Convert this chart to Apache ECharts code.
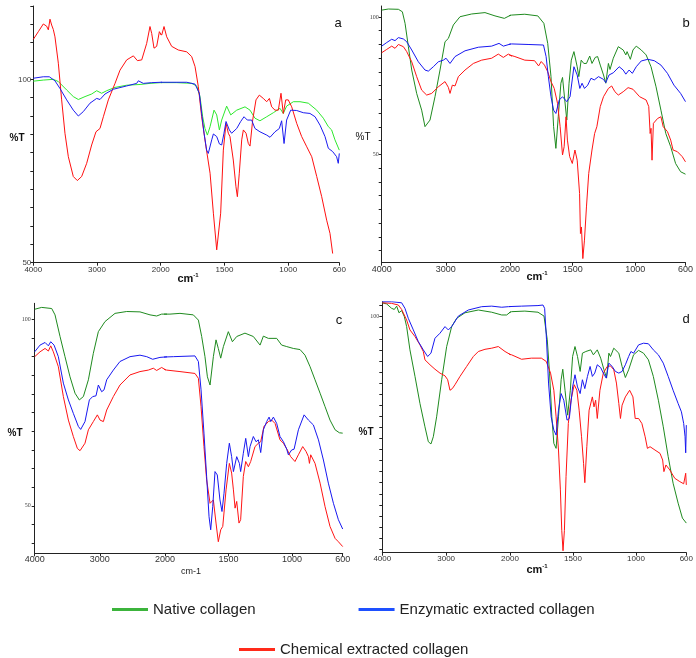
<!DOCTYPE html>
<html><head><meta charset="utf-8">
<script src="https://cdn.jsdelivr.net/npm/echarts@6/dist/echarts.min.js"></script>
<style>html,body{margin:0;padding:0;background:#fff}#c{width:696px;height:658px}</style>
</head><body><div id="c"></div><script>
// ---- data: [wavenumber cm-1, %T] ----
const aNative = [[4000,99.5],[3843,99.8],[3686,100],[3607,99.4],[3476,97.1],[3372,95.3],[3293,94.5],[3188,95.3],[3084,96],[3005,96.9],[2927,96.2],[2848,96.9],[2717,97.8],[2534,98.4],[2324,98.6],[2168,98.9],[2000,99.1],[1875,99.1],[1757,98.9],[1718,98.2],[1692,95.3],[1671,89.8],[1653,86.6],[1634,84.8],[1613,87.1],[1582,91.6],[1561,90.3],[1540,86.2],[1522,88.9],[1483,92.7],[1451,90.3],[1404,91.6],[1339,92.5],[1300,91.6],[1261,89.4],[1222,88.7],[1169,89.8],[1117,90.9],[1065,92.1],[1039,90.7],[1013,92.7],[960,93.9],[908,93.9],[843,93.5],[777,91.6],[725,89.4],[686,87.1],[660,86.2],[634,83.5],[600,80.7]];
const aEnzymatic = [[4000,100.3],[3843,100.7],[3749,100.7],[3660,99.6],[3581,97.5],[3476,94.4],[3372,91.6],[3293,90],[3215,91.2],[3110,93.5],[3005,94.8],[2953,94.5],[2874,96],[2743,97.3],[2534,98.2],[2377,98.9],[2351,99.6],[2272,98.9],[2141,99.1],[2000,99.2],[1796,99.2],[1731,98.7],[1697,96.2],[1679,90.7],[1660,85.3],[1640,80.7],[1627,79.8],[1600,83.5],[1587,85.1],[1561,84.4],[1540,82.4],[1522,82.1],[1504,85.3],[1488,88.5],[1462,86.2],[1444,85.3],[1404,86.6],[1373,88.5],[1347,89.8],[1321,88.9],[1287,88.9],[1261,86.6],[1222,85.7],[1169,84.8],[1143,84.2],[1104,85.7],[1070,86.6],[1052,88.7],[1033,82.5],[1013,88.9],[981,91.6],[934,91.5],[882,90.9],[830,90.7],[790,89.8],[751,87.5],[712,84.4],[686,81.2],[652,80.3],[621,78.9],[608,77.1],[600,79.8]];
const aChemical = [[4000,110.9],[3921,113],[3843,115.1],[3791,114.5],[3764,113.5],[3738,116.4],[3712,114.8],[3686,113.6],[3660,111.6],[3607,104.4],[3555,94.4],[3503,85.3],[3450,78.9],[3372,73.5],[3309,72.4],[3241,73.5],[3162,77.1],[3084,82.1],[3016,85.7],[2953,86.6],[2900,89.8],[2822,94.4],[2717,98.9],[2639,102.5],[2534,105.3],[2429,106.4],[2366,105.1],[2298,105.3],[2220,109.8],[2168,114.4],[2141,112.5],[2105,108.5],[2063,109],[2021,113],[1992,112.1],[1974,114.4],[1953,111.6],[1914,109],[1862,108],[1796,107.5],[1757,106.2],[1731,103.5],[1705,98],[1679,89.8],[1645,81.6],[1613,74.4],[1587,63.5],[1561,53.5],[1548,53.9],[1530,63.5],[1509,80.7],[1488,88],[1470,85.3],[1457,84.4],[1431,78],[1410,70.7],[1399,68],[1384,74.4],[1365,83.5],[1352,86.2],[1331,85.3],[1313,82.5],[1300,81.8],[1279,88.9],[1253,94.4],[1227,95.7],[1196,94.8],[1169,93.9],[1148,94.8],[1130,92.5],[1104,91.6],[1078,91.6],[1057,96.2],[1039,90.7],[1020,94.4],[1000,94.4],[973,92.5],[934,88],[895,84.4],[855,81.6],[816,78.9],[777,73.5],[738,68],[699,61.6],[673,58],[652,52.5]];

const bNative = [[4000,102.5],[3896,102.9],[3740,102.8],[3678,101.9],[3636,97.7],[3584,89.2],[3532,80.7],[3455,72.2],[3377,66.1],[3325,60.1],[3299,59.5],[3247,62.5],[3169,71],[3091,80.7],[3013,91],[2961,92.2],[2883,97.1],[2779,100.1],[2597,101.1],[2390,101.6],[2234,100.4],[2088,99.5],[1987,100.7],[1882,101],[1778,100.4],[1730,97.7],[1699,90.4],[1673,78.3],[1652,60.1],[1634,52.2],[1615,63.7],[1594,75.9],[1581,78],[1563,69.8],[1547,62.5],[1529,75.9],[1511,84.3],[1490,87.4],[1464,81.9],[1451,78.3],[1432,84.3],[1411,83.1],[1390,83.1],[1364,85.8],[1346,83.1],[1320,85.3],[1301,85.6],[1280,82.5],[1254,78.9],[1236,75.9],[1215,83.1],[1202,80.9],[1176,85],[1136,89.2],[1097,88],[1076,86.2],[1066,87.4],[1040,84.6],[1019,88],[993,89.4],[953,88],[914,86.2],[875,81.9],[835,74.6],[796,66.1],[757,57.6],[718,52.8],[679,46.7],[639,43.7],[600,42.8]];
const bEnzymatic = [[4000,89.4],[3922,90.7],[3844,91.9],[3792,91.4],[3740,92.5],[3662,92],[3610,91],[3532,88],[3429,83.7],[3325,80.7],[3273,80.3],[3195,81.9],[3117,83.7],[3039,84.3],[2997,85],[2935,83.1],[2857,85.6],[2701,87.7],[2493,89],[2286,89.4],[2171,90.4],[2104,89.4],[1987,90.2],[1856,90],[1733,89.8],[1712,85.6],[1694,78.3],[1673,71],[1652,66.1],[1634,64.9],[1607,69.8],[1581,71],[1547,69.2],[1521,71],[1490,81.9],[1464,78.9],[1443,74],[1425,75.9],[1406,74],[1380,75.2],[1354,77.7],[1328,77.1],[1294,78.3],[1254,77.3],[1236,76.1],[1210,78.9],[1176,79.7],[1129,81.9],[1097,80.7],[1076,79.2],[1050,80.7],[1024,79.5],[993,81.9],[953,84],[901,84.6],[849,84.1],[796,82.5],[744,79.5],[692,75.2],[639,72.2],[600,69.2]];
const bChemical = [[4000,87],[3922,88.2],[3844,89.4],[3792,88.6],[3740,90],[3662,89.2],[3610,87.4],[3532,83.7],[3455,78.3],[3377,73.4],[3299,71.6],[3221,72.2],[3117,74.6],[3013,76.5],[2961,74.4],[2935,72.2],[2899,75.2],[2857,74.9],[2805,78.3],[2701,80.7],[2571,83.1],[2442,84.3],[2286,85],[2182,86.5],[2104,85.3],[2026,86.5],[1961,85.6],[1882,84.3],[1804,84.1],[1772,82.2],[1751,83.8],[1725,82.5],[1699,80.1],[1673,76.5],[1647,74],[1621,68.6],[1600,60.1],[1581,49.8],[1568,52.8],[1553,63.7],[1542,55.2],[1524,49.2],[1503,46.7],[1482,51.6],[1464,47.9],[1445,35.8],[1438,21.2],[1430,23.6],[1419,12.1],[1406,18.8],[1390,30.9],[1372,43.1],[1346,51.6],[1325,57.6],[1307,60.1],[1280,67.4],[1254,71],[1215,74],[1189,74.9],[1163,72.8],[1136,71.6],[1097,72.8],[1058,74.3],[1019,73.7],[966,71],[914,69.8],[893,67.4],[882,57.6],[875,59.5],[867,47.9],[856,61.3],[822,63.1],[796,63.7],[778,60.1],[744,58.3],[718,55.2],[699,51.6],[665,51],[626,49.2],[600,47.3]];

const cNative = [[4000,102.7],[3893,103.2],[3739,102.9],[3688,101.2],[3611,95.4],[3535,90],[3458,84.6],[3381,80.2],[3315,78.4],[3253,79.3],[3176,83.8],[3100,90.9],[3023,96.7],[2921,99.4],[2767,101.6],[2588,102.1],[2384,102],[2230,101.2],[2128,100.9],[2051,101.4],[1961,101.4],[1882,101.6],[1777,101.2],[1737,99.8],[1711,95.4],[1685,90],[1666,84.6],[1645,82.4],[1619,90],[1598,94.5],[1580,92.2],[1561,89.6],[1540,92.7],[1501,96.7],[1469,94],[1435,95.4],[1370,96.3],[1304,95.4],[1251,93.1],[1225,95.5],[1186,94.9],[1120,94.9],[1081,93.1],[1041,92.7],[989,92.2],[936,91.9],[897,90.4],[857,87.3],[818,83.8],[778,80.2],[739,76.6],[700,73],[660,70.4],[626,69.6],[600,69.5]];
const cEnzymatic = [[4000,91.3],[3918,93.1],[3841,93.8],[3790,92.9],[3754,94],[3703,93.1],[3637,90],[3560,82.9],[3483,78.4],[3407,74.8],[3330,71.3],[3294,70.5],[3228,72.6],[3161,78.4],[3110,79.3],[3059,79.5],[3023,82.4],[2972,80.6],[2936,81.1],[2895,83.8],[2793,86.4],[2691,88.7],[2537,90],[2384,90.4],[2281,90],[2189,89.3],[2077,89.8],[1934,90],[1764,90.2],[1737,88.7],[1716,81.1],[1693,69.5],[1672,57.9],[1653,47.1],[1640,43.6],[1624,49.8],[1606,59.2],[1588,58.3],[1567,51.6],[1551,48.5],[1535,53.4],[1514,61.4],[1493,66.8],[1475,63.2],[1461,59.2],[1435,63.2],[1414,61.4],[1404,59.2],[1383,64.1],[1364,68.1],[1343,63.2],[1330,65.9],[1304,68.6],[1283,67.2],[1264,67.7],[1246,64.3],[1225,70.4],[1199,72.6],[1180,73.8],[1167,72.6],[1146,73.8],[1120,72.1],[1094,68.6],[1067,67.2],[1041,65.2],[1028,63.7],[1002,65],[983,65.2],[949,70.4],[904,74.4],[870,73],[831,71.7],[791,67.7],[752,62.3],[713,56.1],[673,50.7],[634,46.3],[600,43.8]];
const cChemical = [[4000,90],[3918,91.3],[3841,92.2],[3790,91.5],[3754,92.9],[3714,91.3],[3637,87.3],[3560,79.3],[3483,73],[3407,68.6],[3345,65.4],[3304,64.8],[3228,66.8],[3176,70.4],[3100,72.6],[3038,74.4],[2997,73],[2946,72.6],[2895,75.7],[2793,79.3],[2691,82.4],[2537,85.1],[2384,86],[2256,86.4],[2179,86.9],[2128,86.3],[2051,87.1],[1987,86.4],[1882,86],[1764,85.5],[1737,84.2],[1716,76.6],[1693,65.9],[1672,57],[1645,50.7],[1619,51.6],[1598,45.4],[1580,40.4],[1561,43.6],[1545,44.5],[1519,54.3],[1493,61.4],[1475,58.8],[1461,54.3],[1448,49.4],[1435,51.2],[1417,45.4],[1404,46.3],[1383,57.9],[1364,61.9],[1343,60.5],[1325,61.9],[1291,65.9],[1264,66.8],[1246,67.2],[1220,71.3],[1186,72.6],[1159,73],[1133,72.1],[1094,67.7],[1067,66.8],[1036,65],[1010,63.2],[976,61.9],[949,63.7],[915,65.9],[889,64.6],[870,63.2],[862,61.4],[852,63.7],[818,61.4],[778,56.1],[739,49.8],[700,44.5],[660,41.3],[634,40.4],[600,39.1]];

const dNative = [[4000,102.5],[3932,102.3],[3854,101.5],[3812,101.3],[3775,101.9],[3739,100.7],[3697,101.1],[3655,100],[3619,98.2],[3567,94],[3488,89.2],[3410,84.3],[3332,80.1],[3279,77.4],[3238,77],[3201,78.3],[3149,81.9],[3070,88.6],[2992,94.6],[2914,98.2],[2835,99.7],[2705,100.7],[2496,101.2],[2287,100.8],[2130,100.3],[2052,100.3],[1987,100.9],[1882,101],[1778,100.8],[1730,100.1],[1704,95.8],[1686,89.8],[1668,81.9],[1652,77.1],[1634,76.2],[1615,81.9],[1594,88.6],[1581,90.5],[1563,86.7],[1542,82.2],[1521,86.7],[1503,92.8],[1484,94.6],[1464,92.8],[1443,90.1],[1425,93.4],[1398,93.7],[1359,94],[1338,93.1],[1307,94],[1280,92.5],[1254,90.4],[1233,88.9],[1215,93.4],[1202,92.8],[1176,94.3],[1136,93.4],[1110,91],[1084,89],[1058,90.4],[1019,93.1],[979,93.9],[940,93.4],[901,92.2],[862,89.2],[822,84.9],[783,80.1],[744,74.7],[705,69.9],[665,66.3],[631,63.6],[600,62.7]];
const dEnzymatic = [[4000,102.7],[3854,102.7],[3697,102.5],[3645,101.5],[3593,99.7],[3514,97.6],[3436,95.5],[3358,94],[3290,92.8],[3238,93.4],[3175,96.1],[3097,97],[3018,98.2],[2966,97.6],[2914,98.2],[2809,100.1],[2653,101.2],[2444,101.8],[2287,101.9],[2130,101.7],[2026,101.8],[1908,101.9],[1778,102],[1738,102.1],[1725,101.5],[1710,95.8],[1694,88],[1673,81.9],[1652,79.5],[1634,78.6],[1615,83.1],[1594,86.1],[1573,84.9],[1547,81.3],[1529,81.6],[1503,87.3],[1484,89.5],[1464,87.3],[1443,86.1],[1425,88.6],[1406,87],[1385,89.2],[1364,91],[1346,89.2],[1327,89.8],[1307,91.3],[1280,90.8],[1259,89.8],[1236,88.9],[1215,91.6],[1189,91],[1163,90.1],[1136,89.8],[1110,90.1],[1084,91.3],[1058,92.8],[1040,93.7],[1019,93.4],[979,94.9],[940,95.2],[901,95.1],[862,94],[822,93.1],[783,91.6],[744,89.2],[705,86.7],[665,84.3],[639,82.8],[621,80.7],[610,78.3],[605,75.4],[600,80.4]];
const dChemical = [[4000,102.5],[3854,102.4],[3749,102.1],[3697,101.3],[3619,99.4],[3567,97.6],[3488,96.4],[3410,94.9],[3358,93.7],[3332,92.2],[3306,91.9],[3253,91.3],[3175,90.5],[3097,89.8],[3018,89.3],[2976,88.6],[2940,86.7],[2903,87],[2862,87.7],[2783,89.2],[2679,91],[2574,92.8],[2496,93.7],[2392,94.1],[2287,94.3],[2183,94.6],[2078,93.7],[1987,93.1],[1908,92.3],[1830,92.5],[1751,92.5],[1712,91.9],[1678,89.8],[1652,86.7],[1634,81.9],[1615,75.9],[1600,68.7],[1589,61.4],[1579,57.7],[1568,61.4],[1555,71.1],[1537,80.7],[1516,84.9],[1490,87.7],[1469,86.7],[1451,83.1],[1432,78.3],[1416,73.5],[1406,70],[1390,76.5],[1372,83.1],[1346,85.5],[1333,83.7],[1320,84.9],[1307,81.6],[1286,86.7],[1259,89.8],[1228,91],[1202,91.1],[1176,90.4],[1155,88],[1136,84.3],[1123,81.6],[1110,84],[1084,85.5],[1050,86.7],[1024,85.5],[1006,81.6],[979,81.6],[953,80.7],[927,78.3],[909,76.2],[888,76.5],[849,75.9],[809,75.3],[788,74.1],[778,72],[762,73.2],[731,72.3],[692,70.8],[652,70.2],[621,69.8],[605,71.7],[600,69.6]];

// ---- tick values ----
const xTicksLeft = [4000, 3000, 2000];
const xTicksRight = [1500, 1000, 600];
const aYTicks = [50,55,60,65,70,75,80,85,90,95,100,105,110,115,120];
const aYLabels = [50, 100];
const bYTicks = [15,20,25,30,35,40,45,50,55,60,65,70,75,80,85,90,95,100];
const bYLabels = [50, 100];
const cYTicks = [40,45,50,55,60,65,70,75,80,85,90,95,100];
const cYLabels = [50, 100];
const dYTicks = [58,60,62,64,66,68,70,72,74,76,78,80,82,84,86,88,90,92,94,96,98,100,102];
const dYLabels = [100];
const seriesNames = ['Native collagen', 'Enzymatic extracted collagen', 'Chemical extracted collagen'];

// ---- layout / style ----
const panels = [
  {letter:'a', l:33.3, m:160.7, r:339.3, t:6, b:262.7, ymin:50, ymax:120, yt:aYTicks, yl:aYLabels, data:[aNative,aEnzymatic,aChemical],
   colors:['#2ee82e','#1c1cf0','#ff1010'], xfs:8, yfont:'Liberation Sans', yfs:8, ymargin:2, xmargin:3,
   letterPos:[338,23], tPos:[17,138], tBold:true, cmPos:[188,279], cmBold:true},
  {letter:'b', l:381.7, m:510, r:688.3, t:6, b:262.7, ymin:10.6, ymax:104, yt:bYTicks, yl:bYLabels, data:[bNative,bEnzymatic,bChemical],
   colors:['#1f8a1f','#1818f0','#ff1414'], xfs:9, yfont:'Liberation Serif', yfs:6, ymargin:3, xmargin:2,
   letterPos:[686,23], tPos:[363,137], tBold:false, cmPos:[537,277], cmBold:true},
  {letter:'c', l:34.7, m:165, r:342.7, t:303.3, b:553.3, ymin:37.3, ymax:104.3, yt:cYTicks, yl:cYLabels, data:[cNative,cEnzymatic,cChemical],
   colors:['#1f8a1f','#1818f0','#ff1414'], xfs:9, yfont:'Liberation Serif', yfs:6, ymargin:4, xmargin:2,
   letterPos:[339,320], tPos:[15,433], tBold:true, cmPos:[191,572], cmBold:false},
  {letter:'d', l:382.3, m:510, r:688.3, t:301.7, b:552.7, ymin:57.35, ymax:102.7, yt:dYTicks, yl:dYLabels, data:[dNative,dEnzymatic,dChemical],
   colors:['#1f8a1f','#1818f0','#ff1414'], xfs:8, yfont:'Liberation Serif', yfs:6, ymargin:3, xmargin:2,
   letterPos:[686,319], tPos:[366,432], tBold:true, cmPos:[537,570], cmBold:true}
];

function splitAt2000(pts) {
  const i = pts.findIndex(p => p[0] < 2000);
  return [pts.slice(0, i + 1), pts.slice(Math.max(0, i - 1))];
}
const plain = v => String(v);

const grid = [], xAxis = [], yAxis = [], series = [], graphic = [];
const axisCol = '#222';
panels.forEach((p, pi) => {
  const H = p.b - p.t;
  [[p.l, p.m], [p.m, p.r]].forEach((g, side) => {
    const gi = grid.length;
    grid.push({left: g[0], top: p.t, width: g[1] - g[0], height: H, containLabel: false});
    const isLeft = side === 0;
    xAxis.push({
      type: 'value', gridIndex: gi, inverse: true,
      min: isLeft ? 2000 : 600, max: isLeft ? 4000 : 2000,
      interval: isLeft ? 1000 : undefined,
      axisLine: {show: true, lineStyle: {color: axisCol, width: 1}},
      axisTick: {show: true, length: 3, customValues: isLeft ? xTicksLeft : xTicksRight, lineStyle:{color:axisCol}},
      axisLabel: {show: true, fontSize: p.xfs, fontFamily: 'Liberation Sans', color: '#333', margin: p.xmargin,
                  showMinLabel: true, showMaxLabel: true, customValues: isLeft ? xTicksLeft : xTicksRight, formatter: plain},
      splitLine: {show: false}
    });
    yAxis.push({
      type: 'value', gridIndex: gi, min: p.ymin, max: p.ymax, show: isLeft,
      axisLine: {show: true, lineStyle: {color: axisCol, width: 1}},
      axisTick: {show: true, length: 3, customValues: p.yt, lineStyle:{color:axisCol}},
      axisLabel: {show: true, customValues: p.yl, fontSize: p.yfs, fontFamily: p.yfont, color: '#444', margin: p.ymargin, formatter: plain},
      splitLine: {show: false}
    });
    p.data.forEach((pts, si) => {
      const parts = splitAt2000(pts);
      series.push({
        type: 'line', name: seriesNames[si], xAxisIndex: gi, yAxisIndex: gi,
        data: parts[side], showSymbol: false, symbol: 'none', clip: true, silent: true,
        lineStyle: {width: 1, color: p.colors[si]}, itemStyle: {color: p.colors[si]},
        z: 2 + (si === 2 ? 0 : si)
      });
    });
  });
  graphic.push({type: 'text', x: p.letterPos[0], y: p.letterPos[1], style: {text: p.letter, font: '13px "Liberation Sans"', fill: '#111', align: 'center', verticalAlign: 'middle'}});
  graphic.push({type: 'text', x: p.tPos[0], y: p.tPos[1], style: {text: '%T', font: (p.tBold ? 'bold ' : '') + '10px "Liberation Sans"', fill: '#111', align: 'center', verticalAlign: 'middle'}});
  if (p.cmBold) {
    graphic.push({type: 'text', x: p.cmPos[0], y: p.cmPos[1], style: {text: '{a|cm}{b|-1}', align: 'center', verticalAlign: 'middle',
      rich: {a: {font: 'bold 11px "Liberation Sans"', fill: '#111'}, b: {font: 'bold 6px "Liberation Sans"', fill: '#111', padding: [0, 0, 8, 0]}}}});
  } else {
    graphic.push({type: 'text', x: p.cmPos[0], y: p.cmPos[1], style: {text: 'cm-1', font: '9px "Liberation Sans"', fill: '#222', align: 'center', verticalAlign: 'middle'}});
  }
});

const legendCommon = {icon: 'rect', itemWidth: 36, itemHeight: 3, selectedMode: false, orient: 'horizontal',
  textStyle: {fontSize: 15, fontFamily: 'Liberation Sans', color: '#222'}};
const legend = [
  Object.assign({}, legendCommon, {left: 107, top: 597, itemGap: 103,
    data: [{name: seriesNames[0], itemStyle: {color: '#3cb43c'}}, {name: seriesNames[1], itemStyle: {color: '#1e50ff'}}]}),
  Object.assign({}, legendCommon, {left: 234, top: 637,
    data: [{name: seriesNames[2], itemStyle: {color: '#ff2a1a'}}]})
];

const chart = echarts.init(document.getElementById('c'), null, {renderer: 'canvas'});
chart.setOption({animation: false, backgroundColor: '#fff', grid, xAxis, yAxis, series, legend, graphic});
</script></body></html>
